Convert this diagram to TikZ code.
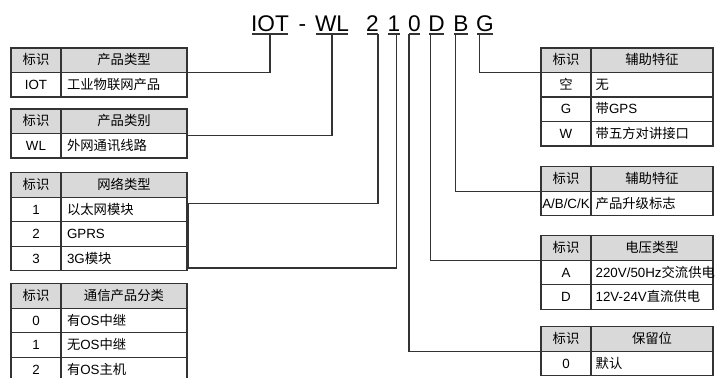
\documentclass[tikz,border=0pt]{standalone}
\usepackage{fontspec}
\setmainfont{Liberation Sans}
\newfontfamily\cjk{Noto Sans CJK SC}
\newcommand\zh[1]{{\cjk #1}}
\definecolor{linegray}{HTML}{333333}
\definecolor{headgray}{HTML}{D9D9D9}
\tikzset{
  cell/.style={draw=linegray, line width=1.1pt, minimum height=18.375pt, inner ysep=0pt,
    outer sep=0pt, anchor=north west, text height=9pt, text depth=2pt,
    font=\fontsize{10}{12}\selectfont},
  idcell/.style={cell, minimum width=37.5pt, inner xsep=0pt},
  ltext/.style={cell, text width=85.5pt, inner xsep=4.5pt, align=left},
  rtext/.style={cell, text width=84.5pt, inner xsep=3.5pt, align=left},
  head/.style={fill=headgray, align=center},
  wire/.style={draw=linegray, line width=1.1pt},
  code/.style={inner sep=0pt, outer sep=0pt, anchor=base, text depth=0pt,
    font=\fontsize{17}{17}\selectfont},
}
% header row: name, x, y, title, text style
\newcommand\tabhead[5]{%
  \node[idcell,head] (#1-id) at (#2,#3) {\zh{标识}};
  \node[#5,head] (#1-tx) at (#1-id.north east) {#4};}
% data row: name, x, y, id, text, text style
\newcommand\tabrow[6]{%
  \node[idcell] (#1-id) at (#2,#3) {#4};
  \node[#6] (#1-tx) at (#1-id.north east) {#5};}
\begin{document}
\begin{tikzpicture}[x=0.75pt,y=-0.75pt]
\useasboundingbox (0,0) rectangle (715,378);

% code line
\node[code] (t-iot) at (270,31.5) {IOT};
\node[code] (t-dash) at (302.5,31.5) {-};
\node[code] (t-wl) at (332,31.5) {WL};
\node[code] (t-2) at (372.5,31.5) {2};
\node[code] (t-1) at (394,31.5) {1};
\node[code] (t-0) at (414.5,31.5) {0};
\node[code] (t-d) at (436.5,31.5) {D};
\node[code] (t-b) at (461,31.5) {B};
\node[code] (t-g) at (485,31.5) {G};
\foreach \c in {iot,wl,2,1,0,d,b,g}
  \draw[wire] ([xshift=0.6pt,yshift=-2pt]t-\c.south west) -- ([xshift=-0.6pt,yshift=-2pt]t-\c.south east);

% left tables
\tabhead{l1h}{11}{48}{\zh{产品类型}}{ltext}
\tabrow{l1r1}{11}{72.5}{IOT}{\zh{工业物联网产品}}{ltext}

\tabhead{l2h}{11}{109}{\zh{产品类别}}{ltext}
\tabrow{l2r1}{11}{133.5}{WL}{\zh{外网通讯线路}}{ltext}

\tabhead{l3h}{11}{172.75}{\zh{网络类型}}{ltext}
\foreach \i/\a/\b in {1/1/\zh{以太网模块}, 2/2/GPRS, 3/3/3G\zh{模块}}
  {\tabrow{l3r\i}{11}{172.75+24.5*\i}{\a}{\b}{ltext}}

\tabhead{l4h}{11}{283.75}{\zh{通信产品分类}}{ltext}
\foreach \i/\a/\b in {1/0/\zh{有}OS\zh{中继}, 2/1/\zh{无}OS\zh{中继}, 3/2/\zh{有}OS\zh{主机}}
  {\tabrow{l4r\i}{11}{283.75+24.5*\i}{\a}{\b}{ltext}}

% right tables
\tabhead{r1h}{541}{48}{\zh{辅助特征}}{rtext}
\foreach \i/\a/\b in {1/\zh{空}/\zh{无}, 2/G/\zh{带}GPS, 3/W/\zh{带五方对讲接口}}
  {\tabrow{r1r\i}{541}{48+24.5*\i}{\a}{\b}{rtext}}

\tabhead{r2h}{541}{166.75}{\zh{辅助特征}}{rtext}
\tabrow{r2r1}{541}{191.25}{A/B/C/K}{\zh{产品升级标志}}{rtext}

\tabhead{r3h}{541}{235.75}{\zh{电压类型}}{rtext}
\tabrow{r3r1}{541}{260.25}{A}{220V/50Hz\zh{交流供电}}{rtext}
\tabrow{r3r2}{541}{284.75}{D}{12V-24V\zh{直流供电}}{rtext}

\tabhead{r4h}{541}{326.75}{\zh{保留位}}{rtext}
\tabrow{r4r1}{541}{351.25}{0}{\zh{默认}}{rtext}

% wires
\draw[wire] ([yshift=-2pt]t-iot.south) |- (l1h-tx.south east);
\draw[wire] ([yshift=-2pt]t-wl.south) |- ([yshift=-1.5pt]l2h-tx.south east);
\coordinate (net-a) at ([xshift=1.1pt,yshift=-4.5pt]l3r1-tx.north east);
\coordinate (net-b) at ([xshift=1.1pt,yshift=2.2pt]l3r3-tx.south east);
\draw[wire] ([xshift=-0.6pt,yshift=-2pt]t-2.south east) |- (net-a);
\draw[wire] ([xshift=2pt,yshift=-2pt]t-1.south) |- (net-b) -- (net-a);
\draw[wire] ([xshift=0.6pt,yshift=-2pt]t-0.south west) |- (r4h-id.south west);
\draw[wire] ([xshift=1.5pt,yshift=-2pt]t-d.south west) |- (r3h-id.south west);
\draw[wire] ([xshift=1.5pt,yshift=-2pt]t-b.south west) |- (r2h-id.south west);
\draw[wire] ([xshift=2.5pt,yshift=-2pt]t-g.south west) |- (r1h-id.south west);
\end{tikzpicture}
\end{document}
